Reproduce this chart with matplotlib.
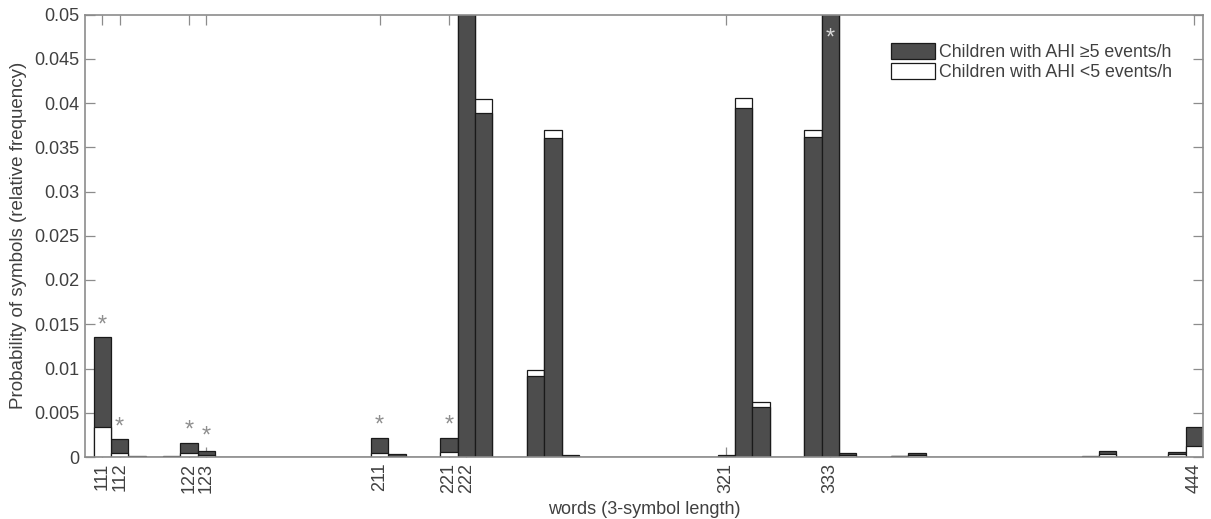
import itertools
import numpy as np
import matplotlib
matplotlib.use("Agg")
import matplotlib.pyplot as plt
from matplotlib.patches import Patch

# ---- data ----
words = [''.join(p) for p in itertools.product('1234', repeat=3)]  # 64 words, 111..444

ahi_high = [0.0136, 0.0020, 0.0001, 0.0, 0.0001, 0.0016, 0.0007, 0.00003,
            0.00003, 0.0, 0.00005, 0.00003, 0.0, 0.0, 0.0, 0.0,
            0.0021, 0.0003, 0.0, 0.0, 0.0021, 0.062, 0.0389, 0.0,
            0.0, 0.0091, 0.0360, 0.0002, 0.0, 0.0, 0.0, 0.00005,
            0.00005, 0.0, 0.0, 0.0, 0.0002, 0.0394, 0.0057, 0.0,
            0.00005, 0.0362, 0.062, 0.0005, 0.0, 0.0, 0.00015, 0.0005,
            0.0, 0.0, 0.0, 0.0, 0.0, 0.0, 0.0, 0.0,
            0.0, 0.0001, 0.0007, 0.00005, 0.0, 0.0, 0.0006, 0.0034]

ahi_low = [0.0034, 0.0005, 0.00005, 0.0, 0.00005, 0.0005, 0.0002, 0.00002,
           0.0, 0.0, 0.00003, 0.0, 0.0, 0.0, 0.0, 0.0,
           0.0005, 0.0001, 0.0, 0.0, 0.0006, 0.064, 0.0405, 0.0,
           0.0, 0.0098, 0.0369, 0.0001, 0.0, 0.0, 0.0, 0.00003,
           0.00003, 0.0, 0.0, 0.0, 0.0001, 0.0406, 0.0062, 0.0,
           0.00005, 0.0370, 0.064, 0.0002, 0.0, 0.0, 0.0001, 0.0002,
           0.0, 0.0, 0.0, 0.0, 0.0, 0.0, 0.0, 0.0,
           0.0, 0.00005, 0.0003, 0.00003, 0.0, 0.0, 0.0003, 0.0012]

tick_words = ['111', '112', '122', '123', '211', '221', '222', '321', '333', '444']

star_words = ['111', '112', '122', '123', '211', '221', '333']
star_heights = [0.0148, 0.0033, 0.0030, 0.0023, 0.0035, 0.0035, 0.0473]
star_colors = ['#8f8f8f'] * 6 + ['#d8d8d8']

series_labels = ['Children with AHI \u22655 events/h', 'Children with AHI <5 events/h']

# ---- style ----
DARK = '#4d4d4d'
LIGHT = '#ffffff'
EDGE = '#1a1a1a'
AXC = '#8c8c8c'
TXT = '#404040'
plt.rcParams['font.family'] = ['Liberation Sans', 'DejaVu Sans']

fig = plt.figure(figsize=(12.11, 5.19), dpi=100)
ax = fig.add_axes([85 / 1211, 1 - 457 / 519, (1203 - 85) / 1211, (457 - 14.5) / 519])

x = np.arange(1, len(words) + 1)
hi = np.array(ahi_high)
lo = np.array(ahi_low)
back = np.maximum(hi, lo)
front = np.minimum(hi, lo)
back_col = [DARK if h >= l else LIGHT for h, l in zip(hi, lo)]
front_col = [LIGHT if h >= l else DARK for h, l in zip(hi, lo)]

ax.bar(x, back, width=1.0, color=back_col, edgecolor=EDGE, linewidth=0.9, zorder=1)
ax.bar(x, front, width=1.0, color=front_col, edgecolor=EDGE, linewidth=0.9, zorder=2)

for w, h, c in zip(star_words, star_heights, star_colors):
    ax.text(words.index(w) + 1, h, '*', ha='center', va='center', fontsize=17,
            color=c, zorder=4)

ax.set_xlim(0, 64.5)
ax.set_ylim(0, 0.05)
ax.set_yticks(np.arange(0, 0.0501, 0.005))
ax.set_yticklabels(['0', '0.005', '0.01', '0.015', '0.02', '0.025', '0.03', '0.035',
                    '0.04', '0.045', '0.05'])
ax.set_xticks([words.index(w) + 1 for w in tick_words])
ax.set_xticklabels(tick_words, rotation=90)
ax.set_axisbelow(True)
ax.tick_params(direction='in', length=7, width=0.9, color=AXC, labelcolor=TXT,
               labelsize=13, top=True, right=True, pad=4)
for s in ax.spines.values():
    s.set_color(AXC)
    s.set_linewidth(1.2)
    s.set_zorder(5)

ax.set_xlabel('words (3-symbol length)', fontsize=13, color=TXT, labelpad=6)
ax.set_ylabel('Probability of symbols (relative frequency)', fontsize=13.5, color=TXT, labelpad=5)

handles = [Patch(facecolor=DARK, edgecolor=EDGE, linewidth=0.9),
           Patch(facecolor=LIGHT, edgecolor=EDGE, linewidth=0.9)]
leg = ax.legend(handles, series_labels, loc='upper right', frameon=False,
                fontsize=12.8, handlelength=2.45, handleheight=1.0, handletextpad=0.22,
                labelspacing=0.12, bbox_to_anchor=(0.9785, 0.952), borderaxespad=0)
for t in leg.get_texts():
    t.set_color(TXT)

fig.savefig('out.png', dpi=100)
